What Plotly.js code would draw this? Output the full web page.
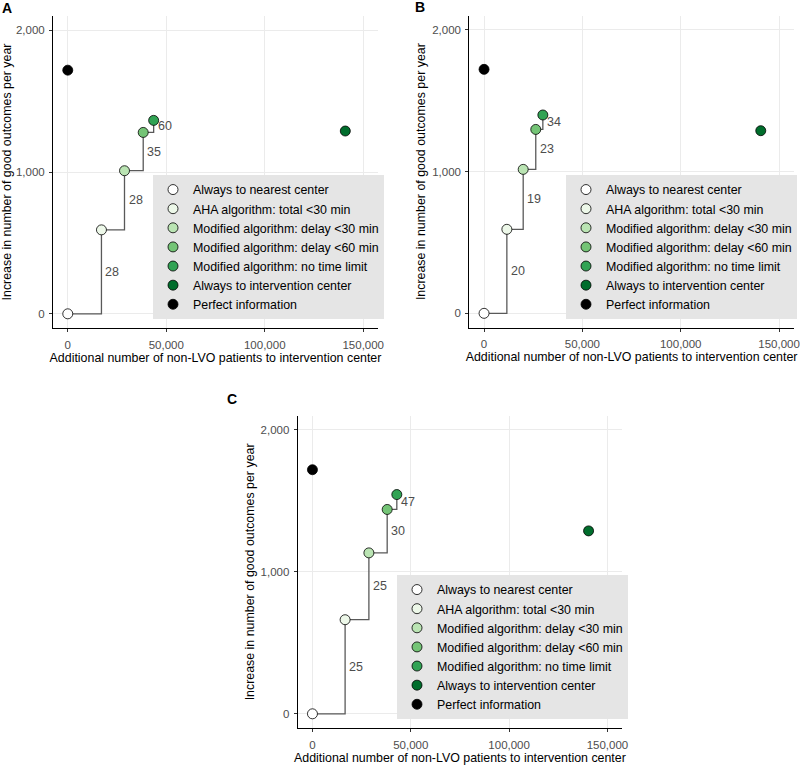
<!DOCTYPE html>
<html>
<head>
<meta charset="utf-8">
<script src="https://cdn.plot.ly/plotly-3.0.1.min.js"></script>
<style>html,body{margin:0;padding:0;background:#fff;}#chart{width:800px;height:765px;}</style>
</head>
<body>
<div id="chart"></div>
<script>
// ---------- data ----------
const strategies = [
  "Always to nearest center",
  "AHA algorithm: total <30 min",
  "Modified algorithm: delay <30 min",
  "Modified algorithm: delay <60 min",
  "Modified algorithm: no time limit",
  "Always to intervention center",
  "Perfect information"
];
const strategyColors = ["#ffffff", "#edf8e9", "#bae4b3", "#74c476", "#31a354", "#006d2c", "#000000"];

const panelLetters = ["A", "B", "C"];

// Panel A
const xA = [0, 17100, 28800, 38300, 43600, 140900, 0];
const yA = [0, 592, 1009, 1279, 1364, 1289, 1718];
const labelsA = [28, 28, 35, 60];
// Panel B
const xB = [0, 11600, 19900, 26300, 29900, 140700, 0];
const yB = [0, 593, 1016, 1298, 1400, 1289, 1722];
const labelsB = [20, 19, 23, 34];
// Panel C
const xC = [0, 16600, 28700, 38000, 42900, 140400, 0];
const yC = [0, 663, 1134, 1440, 1545, 1289, 1720];
const labelsC = [25, 25, 30, 47];

const xTicks = [0, 50000, 100000, 150000];
const yTicks = [0, 1000, 2000];
const xTitle = "Additional number of non-LVO patients to intervention center";
const yTitle = "Increase in number of good outcomes per year";

// ---------- build ----------
const FONT = "Liberation Sans, Arial, sans-serif";
const panels = [
  {x: xA, y: yA, labels: labelsA, ax: "", legend: "legend"},
  {x: xB, y: yB, labels: labelsB, ax: "2", legend: "legend2"},
  {x: xC, y: yC, labels: labelsC, ax: "3", legend: "legend3"}
];

const traces = [];
const annotations = [];
const nStep = 5; // first five strategies form the step path

panels.forEach((p) => {
  const xref = "x" + p.ax, yref = "y" + p.ax;
  traces.push({
    type: "scatter", mode: "lines",
    x: p.x.slice(0, nStep), y: p.y.slice(0, nStep),
    xaxis: xref, yaxis: yref,
    line: {shape: "hv", color: "#595959", width: 1.3},
    showlegend: false, hoverinfo: "skip", legend: p.legend
  });
  strategies.forEach((s, i) => {
    traces.push({
      type: "scatter", mode: "markers",
      x: [p.x[i]], y: [p.y[i]], name: s,
      xaxis: xref, yaxis: yref, legend: p.legend,
      marker: {size: 10, color: strategyColors[i], line: {color: "#000000", width: 0.8}},
      showlegend: true
    });
  });
  p.labels.forEach((lab, k) => {
    annotations.push({
      xref: xref, yref: yref,
      x: p.x[k + 1], y: (p.y[k] + p.y[k + 1]) / 2,
      text: String(lab), showarrow: false,
      xanchor: "left", yanchor: "middle", xshift: 2,
      font: {family: FONT, size: 12.5, color: "#4d4d4d"}
    });
  });
});

const letterPos = [[7, 8], [420, 7], [232, 399]];
panelLetters.forEach((L, i) => {
  annotations.push({
    xref: "paper", yref: "paper",
    x: letterPos[i][0] / 800, y: 1 - letterPos[i][1] / 765,
    text: "<b>" + L + "</b>", showarrow: false,
    xanchor: "center", yanchor: "middle",
    font: {family: FONT, size: 14, color: "#000000"}
  });
});

function xAxis(domain, anchor) {
  return {
    domain: domain, anchor: anchor,
    range: [-7500, 157500], tickvals: xTicks, tickformat: ",",
    showgrid: true, gridcolor: "#ebebeb", gridwidth: 1, zeroline: false,
    showline: true, linecolor: "#000000", linewidth: 1,
    ticks: "outside", ticklen: 3, tickcolor: "#333333", tickwidth: 1,
    ticklabelstandoff: 3,
    tickfont: {family: FONT, size: 11.5, color: "#4d4d4d"},
    title: {text: xTitle, font: {family: FONT, size: 12.4, color: "#000000"}, standoff: 2},
    fixedrange: true
  };
}
function yAxis(domain, anchor) {
  return {
    domain: domain, anchor: anchor,
    range: [-100, 2100], tickvals: yTicks, tickformat: ",",
    showgrid: true, gridcolor: "#ebebeb", gridwidth: 1, zeroline: false,
    showline: true, linecolor: "#000000", linewidth: 1,
    ticks: "outside", ticklen: 3, tickcolor: "#333333", tickwidth: 1,
    ticklabelstandoff: 2,
    tickfont: {family: FONT, size: 11.5, color: "#4d4d4d"},
    title: {text: yTitle, font: {family: FONT, size: 12.4, color: "#000000"}, standoff: 3},
    fixedrange: true
  };
}
function legendAt(px, pyMid) {
  return {
    x: px / 800, y: 1 - pyMid / 765, xanchor: "left", yanchor: "middle",
    bgcolor: "#e5e5e5", borderwidth: 0,
    font: {family: FONT, size: 12.4, color: "#000000"},
    traceorder: "normal", itemclick: false, itemdoubleclick: false
  };
}

const layout = {
  width: 800, height: 765,
  margin: {l: 0, r: 0, t: 0, b: 0},
  paper_bgcolor: "#ffffff", plot_bgcolor: "#ffffff",
  font: {family: FONT},
  showlegend: true,
  xaxis: xAxis([53 / 800, 378 / 800], "y"),
  yaxis: yAxis([1 - 328 / 765, 1 - 16 / 765], "x"),
  xaxis2: xAxis([469.3 / 800, 793.8 / 800], "y2"),
  yaxis2: yAxis([1 - 327.5 / 765, 1 - 15.8 / 765], "x2"),
  xaxis3: xAxis([297.7 / 800, 622.2 / 800], "y3"),
  yaxis3: yAxis([1 - 728 / 765, 1 - 415.8 / 765], "x3"),
  legend: legendAt(153, 247),
  legend2: legendAt(566, 247),
  legend3: legendAt(397, 647),
  annotations: annotations
};

Plotly.newPlot("chart", traces, layout, {staticPlot: true, displayModeBar: false});
</script>
</body>
</html>
